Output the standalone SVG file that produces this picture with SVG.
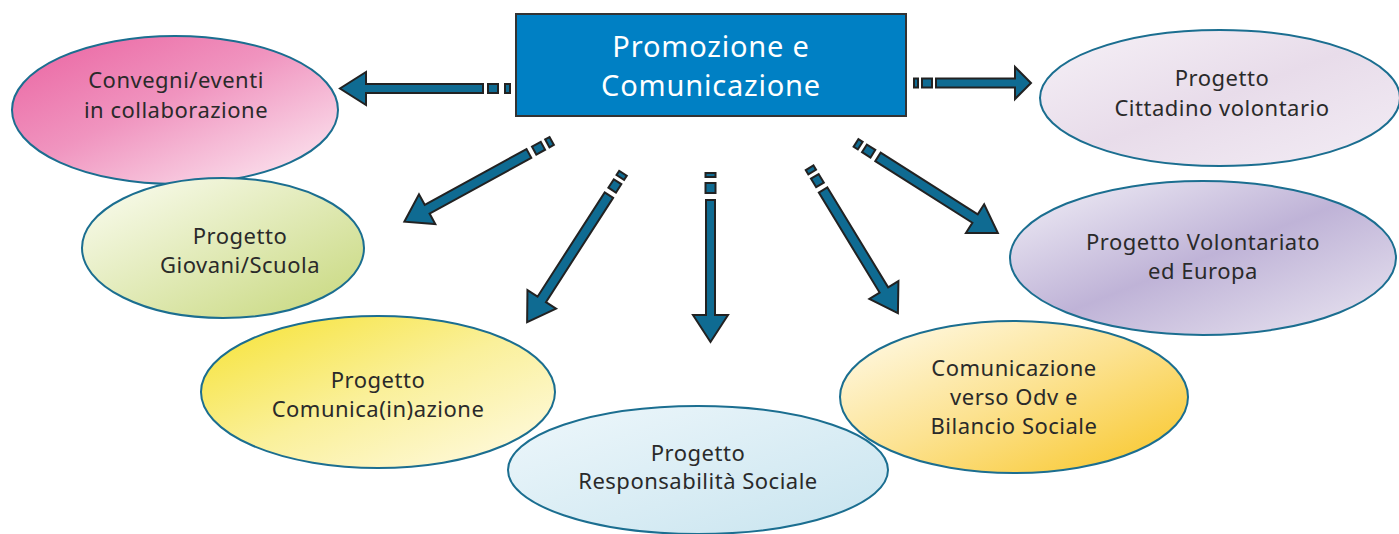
<svg xmlns="http://www.w3.org/2000/svg" width="1399" height="534" viewBox="0 0 1399 534">
<style>
.ell{stroke:#1b6e90;stroke-width:2}
.lbl{font-family:"Noto Sans","Open Sans",sans-serif;font-size:22px;letter-spacing:0.5px;fill:#2a2a2a;text-anchor:middle}
.title{font-family:"Noto Sans","Open Sans",sans-serif;font-size:29px;letter-spacing:0.8px;fill:#ffffff;text-anchor:middle}
.arr{fill:#0f6b92;stroke:#222;stroke-width:2;stroke-linejoin:miter}
</style>
<defs>
<linearGradient id="gPink" x1="0" y1="0" x2="1" y2="1"><stop offset="0" stop-color="#ea62a0"/><stop offset="0.45" stop-color="#f094bf"/><stop offset="1" stop-color="#fdf0f6"/></linearGradient>
<linearGradient id="gLav1" x1="0" y1="0" x2="1" y2="1"><stop offset="0" stop-color="#f6f1f7"/><stop offset="0.5" stop-color="#e8dcea"/><stop offset="1" stop-color="#f3edf5"/></linearGradient>
<linearGradient id="gGreen" x1="0" y1="0" x2="1" y2="1"><stop offset="0" stop-color="#fcfdf4"/><stop offset="1" stop-color="#c6d77a"/></linearGradient>
<linearGradient id="gLav2" x1="0" y1="0" x2="1" y2="1"><stop offset="0" stop-color="#f3f1f8"/><stop offset="0.5" stop-color="#bfb3d7"/><stop offset="1" stop-color="#ebe7f2"/></linearGradient>
<linearGradient id="gYel" x1="0" y1="0" x2="1" y2="1"><stop offset="0" stop-color="#f6e230"/><stop offset="0.5" stop-color="#faf09a"/><stop offset="1" stop-color="#fffbe8"/></linearGradient>
<linearGradient id="gBlue" x1="0" y1="0" x2="1" y2="1"><stop offset="0" stop-color="#eef7fb"/><stop offset="1" stop-color="#c8e4ef"/></linearGradient>
<linearGradient id="gGold" x1="0" y1="0" x2="1" y2="1"><stop offset="0" stop-color="#fffcf0"/><stop offset="0.5" stop-color="#fce290"/><stop offset="1" stop-color="#f8c523"/></linearGradient>
</defs>

<g id="center">
<rect x="516" y="14" width="390" height="102" fill="#0080c4" stroke="#333" stroke-width="2"/>
<text class="title" x="711" y="57">Promozione e</text>
<text class="title" x="711" y="96">Comunicazione</text>
</g>

<g id="n-convegni">
<ellipse class="ell" cx="175" cy="110" rx="163" ry="74" fill="url(#gPink)"/>
<text class="lbl" x="176" y="88">Convegni/eventi</text>
<text class="lbl" x="176" y="118">in collaborazione</text>
</g>

<g id="n-cittadino">
<ellipse class="ell" cx="1220" cy="98" rx="180" ry="68" fill="url(#gLav1)"/>
<text class="lbl" x="1222" y="86">Progetto</text>
<text class="lbl" x="1222" y="116">Cittadino volontario</text>
</g>

<g id="n-giovani">
<ellipse class="ell" cx="223" cy="248" rx="141" ry="70" fill="url(#gGreen)"/>
<text class="lbl" x="240" y="244">Progetto</text>
<text class="lbl" x="240" y="273">Giovani/Scuola</text>
</g>

<g id="n-europa">
<ellipse class="ell" cx="1203" cy="258" rx="193" ry="77" fill="url(#gLav2)"/>
<text class="lbl" x="1203" y="250">Progetto Volontariato</text>
<text class="lbl" x="1203" y="279">ed Europa</text>
</g>

<g id="n-comunica">
<ellipse class="ell" cx="378" cy="392" rx="177" ry="76" fill="url(#gYel)"/>
<text class="lbl" x="378" y="388">Progetto</text>
<text class="lbl" x="378" y="417">Comunica(in)azione</text>
</g>

<g id="n-odv">
<ellipse class="ell" cx="1014" cy="397" rx="174" ry="76" fill="url(#gGold)"/>
<text class="lbl" x="1014" y="376">Comunicazione</text>
<text class="lbl" x="1014" y="405">verso Odv e</text>
<text class="lbl" x="1014" y="434">Bilancio Sociale</text>
</g>

<g id="n-responsabilita">
<ellipse class="ell" cx="698" cy="470" rx="190" ry="64" fill="url(#gBlue)"/>
<text class="lbl" x="698" y="461">Progetto</text>
<text class="lbl" x="698" y="489">Responsabilità Sociale</text>
</g>

<g id="connectors">
<g transform="translate(510,88.5) rotate(180)">
<rect class="arr" x="0" y="-4.5" width="5" height="9"/><rect class="arr" x="12" y="-4.5" width="10" height="9"/>
<path class="arr" d="M27,-4.5 H144 V-16.5 L170,0 L144,16.5 V4.5 H27 Z"/>
</g>
<g transform="translate(914,83) rotate(0)">
<rect class="arr" x="0" y="-4.5" width="4" height="9"/><rect class="arr" x="8" y="-4.5" width="10" height="9"/>
<path class="arr" d="M22,-4.5 H101 V-16 L117,0 L101,16 V4.5 H22 Z"/>
</g>
<g transform="translate(551.7,141) rotate(151.3)">
<rect class="arr" x="0" y="-4.5" width="5" height="9"/><rect class="arr" x="10" y="-4.5" width="10" height="9"/>
<path class="arr" d="M26,-5 H142 V-17 L168,0 L142,17 V5 H26 Z"/>
</g>
<g transform="translate(623,173.3) rotate(122.8)">
<rect class="arr" x="0" y="-4.5" width="5" height="9"/><rect class="arr" x="10" y="-4.5" width="10" height="9"/>
<path class="arr" d="M26,-5 H150 V-17 L177,0 L150,17 V5 H26 Z"/>
</g>
<g transform="translate(710.5,173) rotate(90)">
<rect class="arr" x="0" y="-5" width="4" height="10"/><rect class="arr" x="10" y="-5" width="10" height="10"/>
<path class="arr" d="M27,-4.5 H142 V-17.5 L169,0 L142,17.5 V4.5 H27 Z"/>
</g>
<g transform="translate(809.6,167.8) rotate(58.7)">
<rect class="arr" x="0" y="-4.5" width="5" height="9"/><rect class="arr" x="10" y="-4.5" width="10" height="9"/>
<path class="arr" d="M26,-5 H143 V-17 L170,0 L143,17 V5 H26 Z"/>
</g>
<g transform="translate(856,143) rotate(32.4)">
<rect class="arr" x="0" y="-4.5" width="5" height="9"/><rect class="arr" x="10" y="-4.5" width="10" height="9"/>
<path class="arr" d="M26,-5 H141 V-17 L168,0 L141,17 V5 H26 Z"/>
</g>
</g>
</svg>
